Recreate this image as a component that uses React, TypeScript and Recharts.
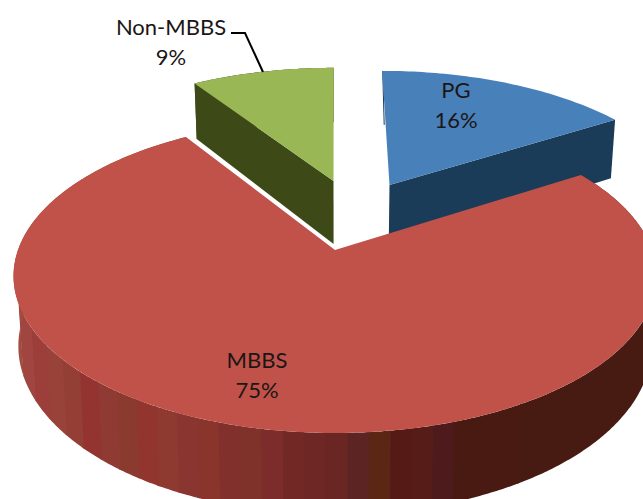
import React from "react";
import { PieChart, Pie, Cell } from "recharts";

const categories = ["PG", "MBBS", "Non-MBBS"];
const shares = [16, 75, 9];
const faceColors = ["#4880ba", "#c0524a", "#99b855"];
const wallColors = ["#1a3c59", "#471b11", "#3d4a18"];

// side-wall strips of the large slice, left to right along the front rim
const wallStrips = [
  "#a04c3e", "#a0453f", "#9c3f3b", "#98423a", "#943f36", "#933430", "#8f3a33", "#8b3a2f",
  "#92352f", "#8f3a31", "#8b3530", "#8a352c", "#82302c", "#7f322a", "#7c2d2b", "#722825",
  "#6e2724", "#6a2623", "#5c2422", "#5c2615", "#561a16", "#551c18", "#4e1b1c", "#481a12",
];

const chartData = categories.map((name, i) => ({ name, value: shares[i] }));

// plane offset of the pulled-out slices
const explode: Record<string, [number, number]> = {
  PG: [0.185, 0.458],
  MBBS: [0, 0],
  "Non-MBBS": [-0.005, 0.489],
};

const labelSpots: Record<string, [number, number]> = {
  PG: [456, 98],
  MBBS: [257, 368],
  "Non-MBBS": [171, 35],
};

const TILT_Y = 152.6;
const PERSPECTIVE = 0.166;
const THICKNESS = 68;
const BOTTOM_SHRINK = 0.985;
const STRIP_WIDTH = 0.057; // in rim units along the horizontal

type Pt = [number, number];

const project = (cx: number, cy: number, r: number, px: number, py: number, drop: boolean): Pt => {
  const w = 1 + PERSPECTIVE * py;
  const x = (r * px) / w;
  const y = (-TILT_Y * py) / w;
  if (!drop) return [cx + x, cy + y];
  return [cx + x * BOTTOM_SHRINK, cy + y + THICKNESS / w];
};

const toPath = (pts: Pt[]) =>
  "M" + pts.map((p) => `${p[0].toFixed(1)},${p[1].toFixed(1)}`).join("L") + "Z";

const rad = (a: number) => (a * Math.PI) / 180;

const Slice3D = (props: any) => {
  const { cx, cy, outerRadius, startAngle, endAngle, fill, name, payload } = props;
  const label = name ?? payload?.name;
  const i = categories.indexOf(label);
  const [ox, oy] = explode[label] ?? [0, 0];
  const hi = Math.max(startAngle, endAngle);
  const lo = Math.min(startAngle, endAngle);

  const at = (a: number, drop: boolean) =>
    project(cx, cy, outerRadius, ox + Math.cos(rad(a)), oy + Math.sin(rad(a)), drop);
  const apex = (drop: boolean) => project(cx, cy, outerRadius, ox, oy, drop);

  const rim: Pt[] = [];
  for (let a = hi; a > lo; a -= 1) rim.push(at(a, false));
  rim.push(at(lo, false));

  // rim wall between two angles, top edge out and bottom edge back
  const band = (from: number, to: number) => {
    const pts: Pt[] = [];
    for (let b = from; b > to; b -= 0.5) pts.push(at(b, false));
    pts.push(at(to, false), at(to, true));
    for (let b = to; b < from; b += 0.5) pts.push(at(b, true));
    pts.push(at(from, true));
    return toPath(pts);
  };

  const walls: React.ReactNode[] = [];
  if (label === "MBBS") {
    // solid dark wall first, then the lit strips over the front-left run
    walls.push(<path key="base" d={band(hi, -60)} fill={wallColors[i]} />);
    const stripFloor = -1;
    let a = -60;
    let idx = wallStrips.length - 1;
    while (idx >= 0) {
      const leftX = stripFloor + idx * STRIP_WIDTH;
      const end = idx === 0 ? lo : -180 + (Math.acos(-leftX) * 180) / Math.PI;
      if (end < a) walls.push(<path key={idx} d={band(a + 0.4, end)} fill={wallStrips[idx]} />);
      a = end;
      idx -= 1;
    }
  } else if (label === "PG") {
    // the rim of this slice sits behind its face, only a hairline shows on the left edge
    const [x0, y0] = at(hi, false);
    walls.push(<line key="edge" x1={x0 + 0.5} y1={y0} x2={x0 + 2} y2={y0 + 54} stroke={wallColors[i]} strokeWidth={1} />);
    walls.push(<path key="cut" d={toPath([apex(false), at(lo, false), at(lo, true), apex(true)])} fill={wallColors[i]} />);
  } else {
    walls.push(<path key="rim" d={band(hi, lo)} fill={wallColors[i]} />);
    walls.push(<path key="cut" d={toPath([apex(false), at(hi, false), at(hi, true), apex(true)])} fill={wallColors[i]} />);
  }

  return (
    <g>
      {walls}
      <path d={toPath([apex(false), ...rim])} fill={fill} />
    </g>
  );
};

const renderLabel = (props: any) => {
  const name = props.name ?? props.payload?.name;
  const value = props.value ?? props.payload?.value;
  const [x, y] = labelSpots[name];
  const textStyle = { fontFamily: "Lato", fontSize: 22, fill: "#1c1616" };
  return (
    <g key={name}>
      <text x={x} y={y} textAnchor="middle" style={textStyle}>
        {name}
      </text>
      <text x={x} y={y + 30} textAnchor="middle" style={textStyle}>
        {value}%
      </text>
      {name === "Non-MBBS" && (
        <polyline points="231,33 245,33 263,72" fill="none" stroke="#000" strokeWidth={2} />
      )}
    </g>
  );
};

export default function App() {
  return (
    <div style={{ position: "absolute", left: 0, top: 0, width: 643, height: 499, overflow: "hidden", background: "#fff" }}>
      <PieChart width={643} height={499} margin={{ top: 0, right: 0, bottom: 0, left: 0 }}>
        <Pie
          data={chartData}
          dataKey="value"
          nameKey="name"
          cx={335}
          cy={250}
          innerRadius={0}
          outerRadius={317}
          startAngle={90}
          endAngle={-270}
          stroke="none"
          shape={Slice3D}
          label={renderLabel}
          labelLine={false}
          isAnimationActive={false}
        >
          {chartData.map((d, i) => (
            <Cell key={d.name} fill={faceColors[i]} />
          ))}
        </Pie>
      </PieChart>
    </div>
  );
}
